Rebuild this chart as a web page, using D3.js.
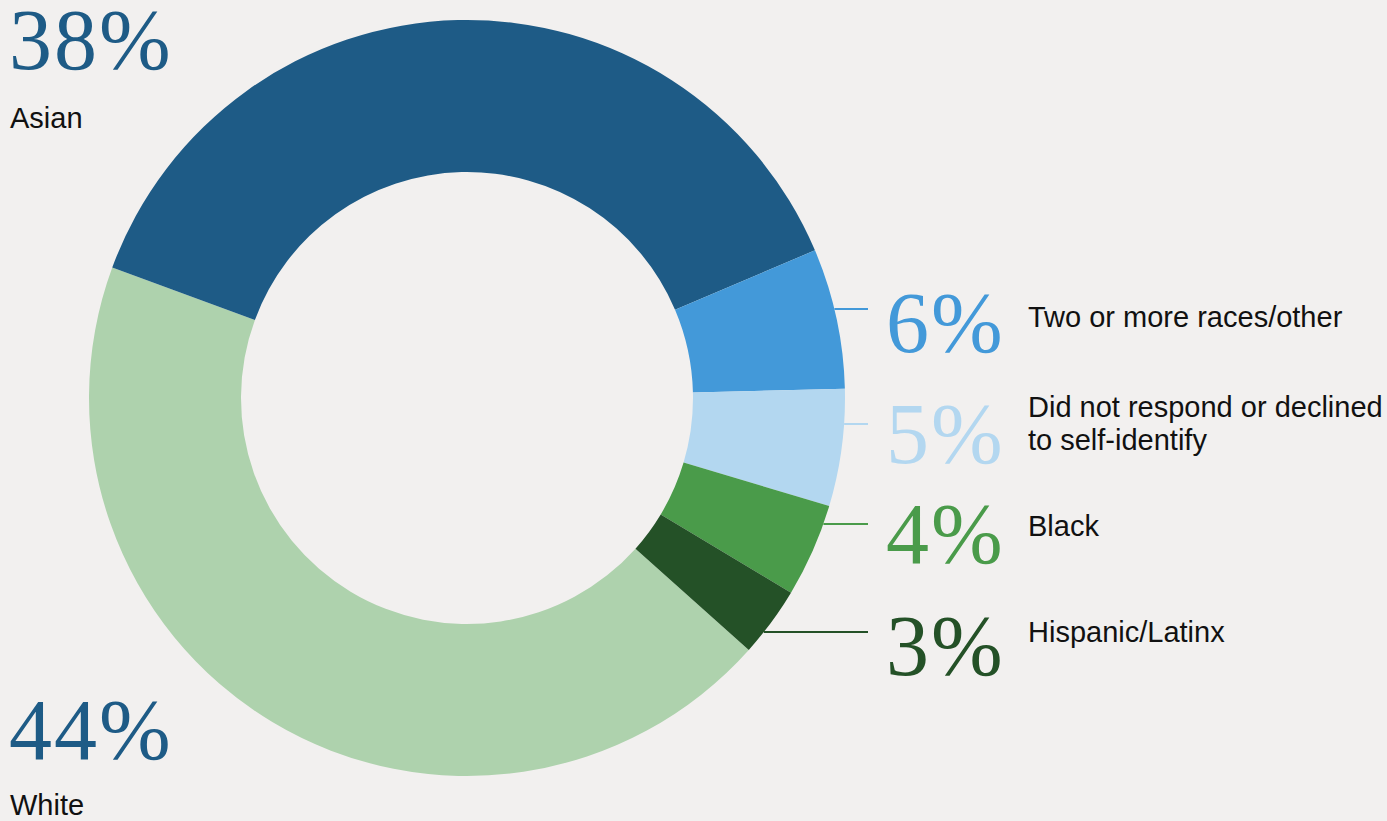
<!DOCTYPE html>
<html>
<head>
<meta charset="utf-8">
<script src="https://cdn.jsdelivr.net/npm/d3@7"></script>
<style>
  html, body { margin: 0; padding: 0; background: #f2f0ef; }
  svg { display: block; }
  .pct { font-family: "Liberation Serif", "Times New Roman", serif; font-size: 86px; letter-spacing: 2px; }
  .lbl { font-family: "Liberation Sans", Arial, sans-serif; font-size: 29px; fill: #111; }
</style>
</head>
<body>
<svg id="chart" width="1387" height="821"></svg>
<script>
// Share of respondents by race/ethnicity (percent)
const categories = ["White", "Asian", "Two or more races/other", "Did not respond or declined to self-identify", "Black", "Hispanic/Latinx"];
const values = [44, 38, 6, 5, 4, 3];
const colors = ["#aed2ad", "#1e5b86", "#4399d9", "#b3d7f0", "#4a9b4a", "#245127"];
const pctColors = ["#1e5b86", "#1e5b86", "#4399d9", "#b3d7f0", "#4a9b4a", "#245127"];
// label lines for each category (multi-line where needed)
const labelLines = [["White"], ["Asian"], ["Two or more races/other"], ["Did not respond or declined", "to self-identify"], ["Black"], ["Hispanic/Latinx"]];

const width = 1387, height = 821;
const cx = 467, cy = 398, outerR = 378, innerR = 226;
const startDeg = 131.8;

const svg = d3.select("#chart");
svg.append("rect").attr("width", width).attr("height", height).attr("fill", "#f2f0ef");

const data = categories.map((c, i) => ({ name: c, value: values[i], color: colors[i], pctColor: pctColors[i], lines: labelLines[i] }));

const pie = d3.pie()
  .value(d => d.value)
  .sort((a, b) => b.value - a.value)
  .startAngle(startDeg * Math.PI / 180)
  .endAngle(startDeg * Math.PI / 180 + 2 * Math.PI);

const arc = d3.arc().innerRadius(innerR).outerRadius(outerR);

const g = svg.append("g").attr("transform", `translate(${cx},${cy})`);
g.selectAll("path.slice")
  .data(pie(data))
  .join("path")
  .attr("class", "slice")
  .attr("d", arc)
  .attr("fill", d => d.data.color);

// Big callouts on the left for the two largest groups
const leftLayout = {
  "Asian": { x: 9, pctY: 69, lblY: 128 },
  "White": { x: 9, pctY: 759, lblY: 815 }
};
// Callouts on the right for the small groups, each with a leader line
const rightLayout = {
  "Two or more races/other": { lineY: 309, pctY: 352, lblY: 327 },
  "Did not respond or declined to self-identify": { lineY: 424, pctY: 463, lblY: 417 },
  "Black": { lineY: 524, pctY: 563, lblY: 536 },
  "Hispanic/Latinx": { lineY: 632, pctY: 675, lblY: 642 }
};
const lineEndX = 868, pctX = 886, lblX = 1028, lineGap = 33;

data.forEach(d => {
  if (leftLayout[d.name]) {
    const L = leftLayout[d.name];
    svg.append("text").attr("class", "pct").attr("x", L.x).attr("y", L.pctY)
      .attr("fill", d.pctColor).text(d.value + "%");
    svg.append("text").attr("class", "lbl").attr("x", L.x + 1).attr("y", L.lblY).text(d.lines[0]);
  } else {
    const R = rightLayout[d.name];
    const dy = R.lineY - cy;
    const x0 = cx + Math.sqrt(outerR * outerR - dy * dy);
    svg.append("line")
      .attr("x1", x0).attr("x2", lineEndX)
      .attr("y1", R.lineY).attr("y2", R.lineY)
      .attr("stroke", d.color).attr("stroke-width", 2);
    svg.append("text").attr("class", "pct").attr("x", pctX).attr("y", R.pctY)
      .attr("fill", d.pctColor).text(d.value + "%");
    d.lines.forEach((ln, k) => {
      svg.append("text").attr("class", "lbl").attr("x", lblX).attr("y", R.lblY + k * lineGap).text(ln);
    });
  }
});
</script>
</body>
</html>
